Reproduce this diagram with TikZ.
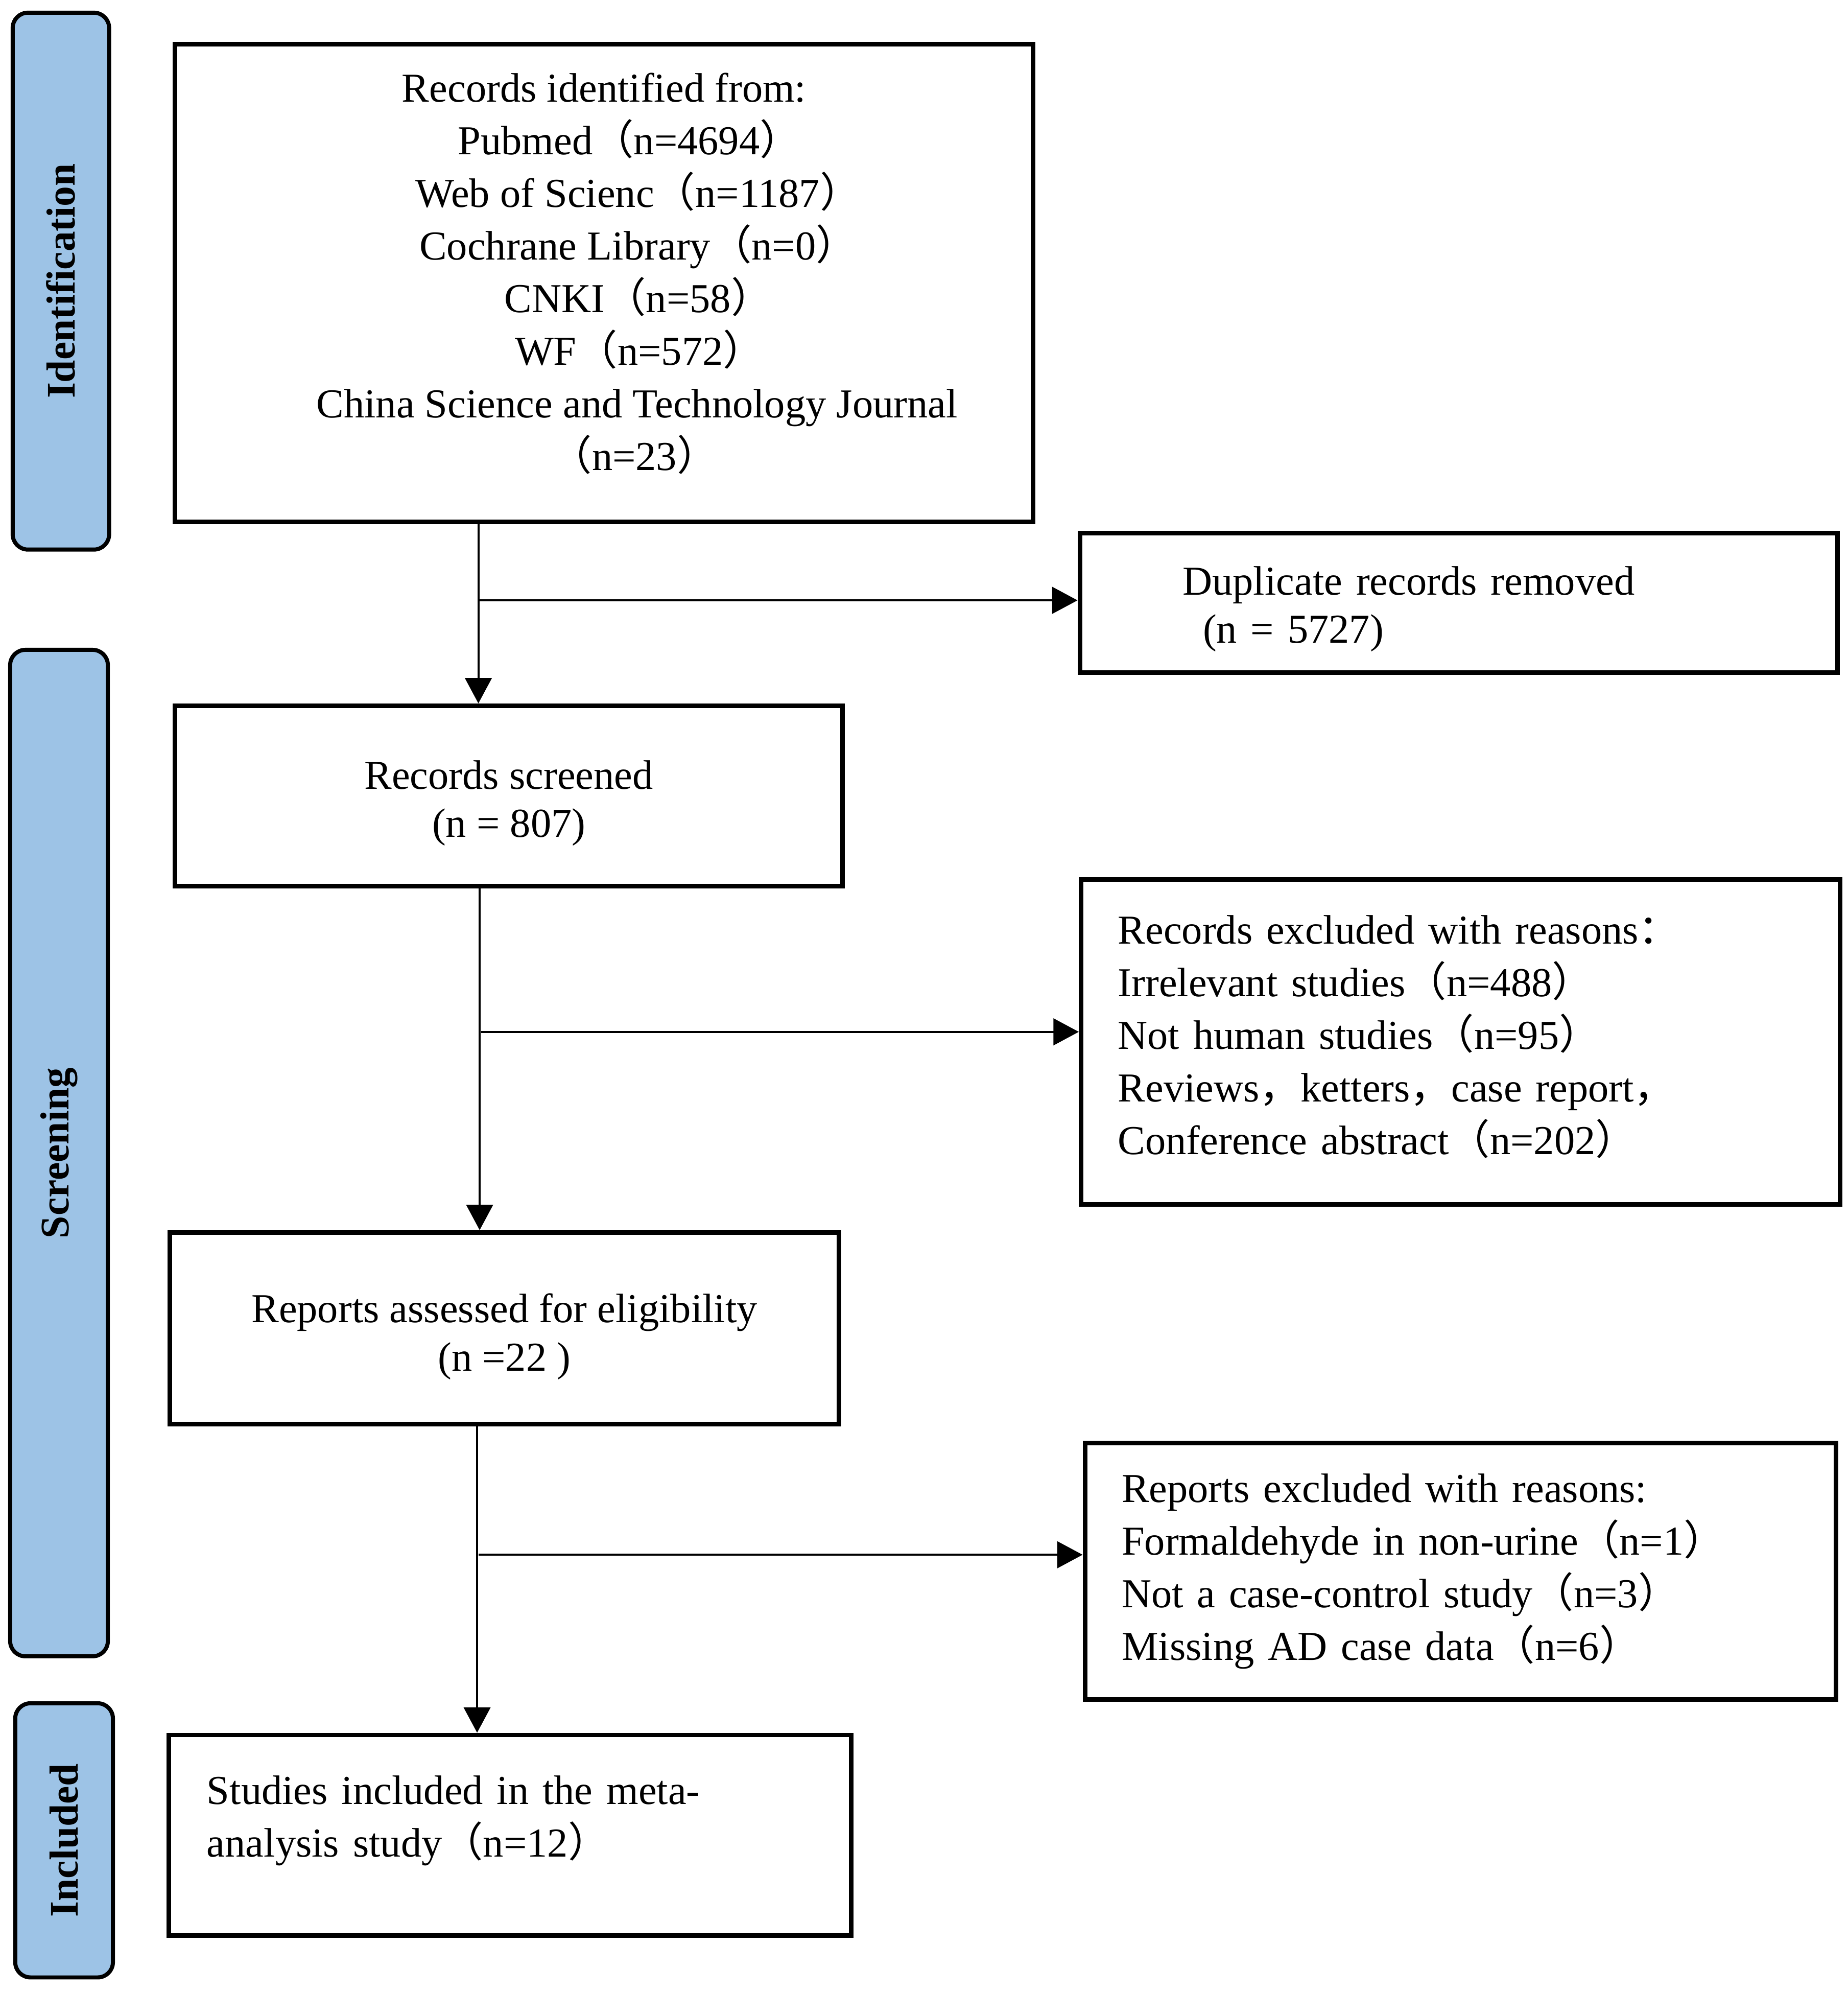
\documentclass[tikz,border=0pt]{standalone}
\usepackage{fontspec}
\setmainfont{Liberation Serif}
\newfontfamily\cjk{Noto Sans CJK SC}
\usetikzlibrary{arrows.meta,calc}
\definecolor{sidefill}{HTML}{9DC3E6}
\newcommand{\flp}{{\cjk （}}
\newcommand{\frp}{{\cjk ）}}
\newcommand{\fcm}{{\cjk ，}}
\newcommand{\fcl}{{\cjk ：}}
\begin{document}
\begin{tikzpicture}[x=0.5pt,y=-0.5pt,
  box/.style={draw=black, line width=1.8pt, fill=white, inner sep=0pt},
  wide/.style={font=\fontsize{16.2pt}{20.75pt}\selectfont},
  tight/.style={font=\fontsize{16.2pt}{19pt}\selectfont},
  side/.style={draw=black, line width=1.6pt, fill=sidefill, rounded corners=6pt, rotate=90, inner sep=0pt, font=\bfseries\fontsize{16pt}{19pt}\selectfont},
  arr/.style={line width=0.8pt, -{Triangle[length=10pt,width=10.5pt]}}]

\useasboundingbox (0,0) rectangle (1456,1570.3);

% phase labels
\node[side, minimum width=211.5pt, minimum height=38pt] (ident) at (48,221.5) {Identification};
\node[side, minimum width=396.5pt, minimum height=38.5pt] (screen) at (46.5,908.5) {Screening};
\node[side, minimum width=108pt, minimum height=38.5pt] (incl) at (50.5,1450) {Included};

% boxes
\node[box, wide, minimum width=338pt, minimum height=188pt, align=center] (top) at (476,223)
  {Records identified from:\\
   \hspace*{20pt}Pubmed\flp n=4694\frp\\
   \hspace*{27pt}Web of Scienc\flp n=1187\frp\\
   \hspace*{27pt}Cochrane Library\flp n=0\frp\\
   \hspace*{27pt}CNKI\flp n=58\frp\\
   \hspace*{28pt}WF\flp n=572\frp\\
   \hspace*{26pt}China Science and Technology Journal\\
   \hspace*{24pt}\flp n=23\frp\\[-11.75pt]\mbox{}};

\node[box, tight, minimum width=298.5pt, minimum height=55pt, inner xsep=40.5pt, text width=217.5pt, align=left] (dup) at (1149.5,475)
  {\rule{0pt}{16pt}Duplicate records removed\\
   \hspace*{8pt}(n = 5727)};

\node[box, tight, minimum width=263pt, minimum height=71pt, align=center] (screened) at (401,627)
  {\rule{0pt}{17pt}Records screened\\(n = 807)};

\node[box, wide, minimum width=299pt, minimum height=128pt, inner xsep=14.5pt, text width=270pt, align=left] (excl1) at (1151,821)
  {Records excluded with reasons\fcl\\
   Irrelevant studies\flp n=488\frp\\
   Not human studies\flp n=95\frp\\
   Reviews\fcm ketters\fcm case report\fcm\\
   Conference abstract\flp n=202\frp\\[-15pt]\mbox{}};

\node[box, tight, minimum width=263.5pt, minimum height=75.5pt, align=center] (assessed) at (397.5,1046.5)
  {\rule{0pt}{18pt}Reports assessed for eligibility\\(n =22 )};

\node[box, wide, minimum width=296pt, minimum height=101pt, inner xsep=14.5pt, text width=267pt, align=left] (excl2) at (1151,1238)
  {Reports excluded with reasons:\\
   Formaldehyde in non-urine\flp n=1\frp\\
   Not a case-control study\flp n=3\frp\\
   Missing AD case data\flp n=6\frp};

\node[box, wide, minimum width=269pt, minimum height=79pt, inner xsep=15pt, text width=239pt, align=left] (studies) at (402,1446)
  {Studies included in the meta-\\
   analysis study\flp n=12\frp\\[-5.75pt]\mbox{}};

% connectors
\coordinate (c1) at (377,0);
\coordinate (c2) at (378,0);
\coordinate (c3) at (376,0);
\coordinate (b1) at (378,473);
\coordinate (b2) at (379,813);
\coordinate (b3) at (377,1225);

\draw[arr] (top.south -| c1) -- (screened.north -| c1);
\draw[arr] (b1) -- (dup.west |- b1);
\draw[arr] (screened.south -| c2) -- (assessed.north -| c2);
\draw[arr] (b2) -- (excl1.west |- b2);
\draw[arr] (assessed.south -| c3) -- (studies.north -| c3);
\draw[arr] (b3) -- (excl2.west |- b3);
\end{tikzpicture}
\end{document}
